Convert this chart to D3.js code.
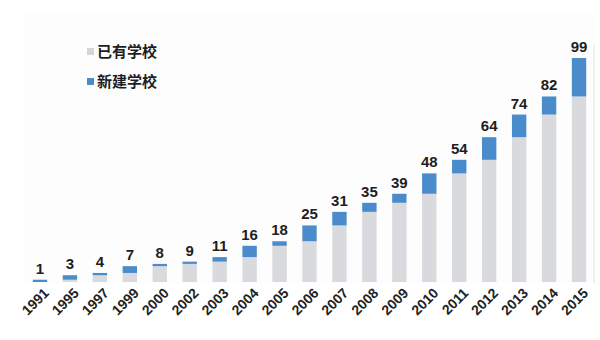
<!DOCTYPE html>
<html>
<head>
<meta charset="utf-8">
<script src="https://cdn.jsdelivr.net/npm/d3@7"></script>
<style>
  html, body { margin: 0; padding: 0; background: #ffffff; }
  svg { display: block; }
</style>
</head>
<body>
<svg id="chart" width="600" height="340"></svg>
<script>
// Years and school counts
const years = ["1991","1995","1997","1999","2000","2002","2003","2004","2005","2006","2007","2008","2009","2010","2011","2012","2013","2014","2015"];
const existing = [0, 1, 3, 4, 7, 8, 9, 11, 16, 18, 25, 31, 35, 39, 48, 54, 64, 74, 82];
const added    = [1, 2, 1, 3, 1, 1, 2, 5, 2, 7, 6, 4, 4, 9, 6, 10, 10, 8, 17];
const totals   = [1, 3, 4, 7, 8, 9, 11, 16, 18, 25, 31, 35, 39, 48, 54, 64, 74, 82, 99];
const seriesNames = ["已有学校", "新建学校"];
const seriesColors = ["#d9dade", "#4a8bcb"];

const svg = d3.select("#chart");
const frame = { left: 24, right: 594, top: 14, bottom: 283 };

const x = d3.scaleBand().domain(years).range([frame.left + 1, frame.right]).paddingInner(0.52).paddingOuter(0.26);
const y = d3.scaleLinear().domain([0, 99]).range([282, 58]);

const defs = svg.append("defs");
const shadow = defs.append("filter").attr("id", "soft").attr("x", "-5%").attr("y", "-5%").attr("width", "110%").attr("height", "120%");
shadow.append("feGaussianBlur").attr("stdDeviation", 1.2);

// panel frame: left edge and shaded floor
svg.append("rect").attr("x", frame.left).attr("y", frame.top).attr("width", frame.right - frame.left).attr("height", frame.bottom - frame.top)
  .attr("fill", "#fdfdfe");
svg.append("line").attr("x1", frame.left).attr("x2", frame.left).attr("y1", frame.top + 20).attr("y2", frame.bottom + 1)
  .attr("stroke", "#c4c4c8").attr("stroke-width", 2).attr("filter", "url(#soft)");
svg.append("line").attr("x1", frame.right).attr("x2", frame.right).attr("y1", frame.top + 30).attr("y2", frame.bottom)
  .attr("stroke", "#ececef").attr("stroke-width", 1.5);
svg.append("line").attr("x1", frame.left).attr("x2", frame.right).attr("y1", frame.bottom + 1.5).attr("y2", frame.bottom + 1.5)
  .attr("stroke", "#9a9aa0").attr("stroke-width", 2.5).attr("filter", "url(#soft)");

const rows = years.map((yr, i) => ({ year: yr, existing: existing[i], added: added[i], total: totals[i] }));
const stack = d3.stack().keys(["existing", "added"])(rows);

svg.append("g").selectAll("g").data(stack).join("g")
  .attr("fill", (d, i) => seriesColors[i])
  .selectAll("rect").data(d => d).join("rect")
  .attr("x", d => x(d.data.year))
  .attr("width", x.bandwidth())
  .attr("y", d => y(d[1]))
  .attr("height", d => Math.max(0, y(d[0]) - y(d[1])));

// total labels
svg.append("g").selectAll("text").data(rows).join("text")
  .attr("x", d => x(d.year) + x.bandwidth() / 2)
  .attr("y", d => y(d.total) - 6)
  .attr("text-anchor", "middle")
  .attr("font-family", "Liberation Sans, Arial, sans-serif")
  .attr("font-weight", "bold")
  .attr("font-size", 15)
  .attr("fill", "#1e1e1e")
  .text(d => d.total);

// rotated year axis
const xAxis = svg.append("g").attr("transform", `translate(0,${frame.bottom + 7})`)
  .call(d3.axisBottom(x).tickSize(0).tickPadding(0));
xAxis.select(".domain").remove();
xAxis.selectAll("text")
  .attr("font-family", "Liberation Sans, Arial, sans-serif")
  .attr("font-weight", "bold")
  .attr("font-size", 14)
  .attr("fill", "#222")
  .attr("text-anchor", "end")
  .attr("dy", "0.7em")
  .attr("dx", "0.3em")
  .attr("transform", "rotate(-45)");

// legend
const legend = svg.append("g").attr("transform", "translate(87,52)");
seriesNames.forEach((name, i) => {
  const g = legend.append("g").attr("transform", `translate(0,${i * 30})`);
  g.append("rect").attr("x", 0).attr("y", -4).attr("width", 7).attr("height", 7).attr("fill", seriesColors[i] === "#d9dade" ? "#d4d5d9" : seriesColors[i]);
  g.append("text").attr("x", 10).attr("y", 0).attr("dy", "0.35em")
    .attr("font-family", "Noto Sans CJK SC, sans-serif")
    .attr("font-weight", "bold")
    .attr("font-size", 15)
    .attr("fill", "#1e1e1e")
    .text(name);
});
</script>
</body>
</html>
